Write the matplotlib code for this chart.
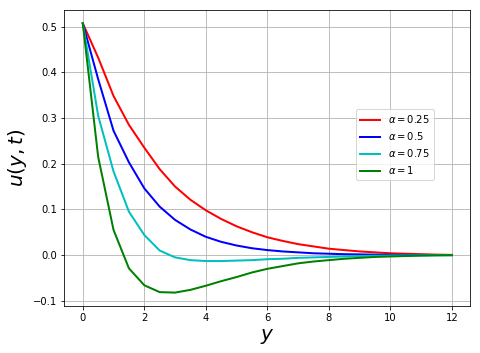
import matplotlib
matplotlib.use("Agg")
import matplotlib.pyplot as plt
import numpy as np

y = [0.0, 0.5, 1.0, 1.5, 2.0, 2.5, 3.0, 3.5, 4.0, 4.5, 5.0, 5.5, 6.0, 6.5,
     7.0, 7.5, 8.0, 8.5, 9.0, 9.5, 10.0, 10.5, 11.0, 11.5, 12.0]

u_025 = [0.507, 0.432, 0.348, 0.285, 0.235, 0.188, 0.150, 0.121, 0.098, 0.079,
         0.063, 0.050, 0.039, 0.031, 0.024, 0.019, 0.014, 0.011, 0.008, 0.006,
         0.004, 0.003, 0.002, 0.001, 0.0005]
u_05 = [0.507, 0.385, 0.272, 0.203, 0.146, 0.106, 0.077, 0.056, 0.040, 0.029,
        0.021, 0.015, 0.011, 0.008, 0.006, 0.004, 0.003, 0.002, 0.0015, 0.001,
        0.0007, 0.0005, 0.0003, 0.0002, 0.0001]
u_075 = [0.507, 0.305, 0.183, 0.095, 0.044, 0.010, -0.005, -0.011, -0.013, -0.013,
         -0.012, -0.011, -0.009, -0.008, -0.006, -0.005, -0.004, -0.003, -0.002, -0.0015,
         -0.001, -0.0007, -0.0004, -0.0002, -0.0001]
u_1 = [0.507, 0.215, 0.055, -0.029, -0.066, -0.081, -0.082, -0.076, -0.067, -0.057,
       -0.048, -0.038, -0.030, -0.024, -0.018, -0.014, -0.011, -0.008, -0.006, -0.004,
       -0.003, -0.002, -0.0012, -0.0006, -0.0002]

labels = [r"$\alpha = 0.25$", r"$\alpha = 0.5$", r"$\alpha = 0.75$", r"$\alpha = 1$"]
colors = ["r", "b", "c", "g"]

fig = plt.figure(figsize=(480 / 72, 353 / 72), dpi=72)
ax = fig.add_axes([0.134, 0.133, 0.846, 0.839])
for series, lab, col in zip([u_025, u_05, u_075, u_1], labels, colors):
    ax.plot(y, series, color=col, linewidth=2, label=lab)

ax.set_xticks([0, 2, 4, 6, 8, 10, 12])
ax.set_yticks([-0.1, 0.0, 0.1, 0.2, 0.3, 0.4, 0.5])
ax.grid(True)
ax.set_xlabel(r"$y$", fontsize=20)
ax.set_ylabel(r"$u(y,t)$", fontsize=20)
ax.legend(loc="center", bbox_to_anchor=(0.815, 0.545), fontsize=10)

fig.savefig("out.png", dpi=72)
